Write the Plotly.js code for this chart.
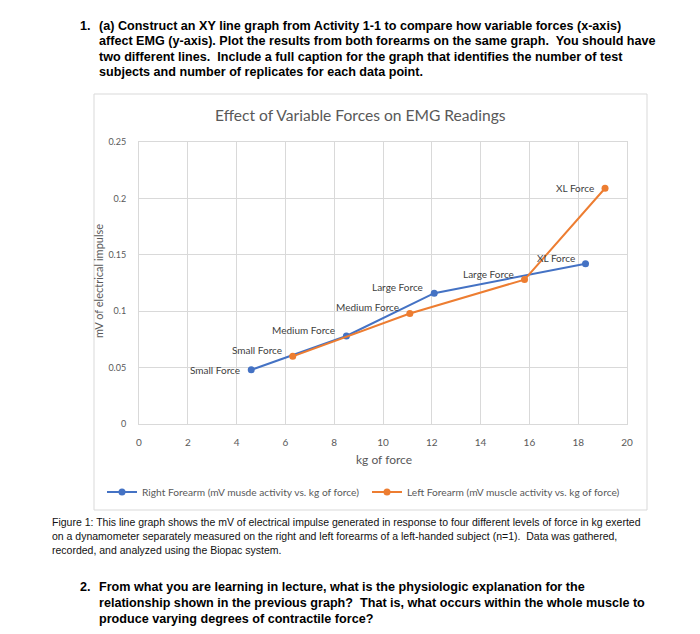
<!DOCTYPE html>
<html>
<head>
<meta charset="utf-8">
<script src="https://cdn.plot.ly/plotly-3.0.1.min.js"></script>
<style>
  body { margin: 0; background: #fff; }
  #chart { width: 700px; height: 634px; }
</style>
</head>
<body>
<div id="chart"></div>
<script>
// force levels (kg) and EMG (mV)
const levels = ["Small Force", "Medium Force", "Large Force", "XL Force"];
const right_kg = [4.6, 8.5, 12.1, 18.3];
const right_mv = [0.048, 0.078, 0.116, 0.142];
const left_kg = [6.3, 11.1, 15.8, 19.1];
const left_mv = [0.060, 0.098, 0.128, 0.209];

const q1_lines = [
  "(a) Construct an XY line graph from Activity 1-1 to compare how variable forces (x-axis)",
  "affect EMG (y-axis). Plot the results from both forearms on the same graph.  You should have",
  "two different lines.  Include a full caption for the graph that identifies the number of test",
  "subjects and number of replicates for each data point."
];
const caption_lines = [
  "Figure 1: This line graph shows the mV of electrical impulse generated in response to four different levels of force in kg exerted",
  "on a dynamometer separately measured on the right and left forearms of a left-handed subject (n=1).  Data was gathered,",
  "recorded, and analyzed using the Biopac system."
];
const q2_lines = [
  "From what you are learning in lecture, what is the physiologic explanation for the",
  "relationship shown in the previous graph?  That is, what occurs within the whole muscle to",
  "produce varying degrees of contractile force?"
];

const BLUE = "#4472C4";
const ORANGE = "#ED7D31";
const GREY = "#595959";
const chartFont = "Lato, 'Open Sans', sans-serif";
const docFont = "'Liberation Sans Narrow', 'Liberation Sans', Arial, sans-serif";

// plot area in page pixels
const plot = { left: 139, right: 627, top: 142, bottom: 424 };
const W = 700, H = 634;
const px = x => (x - plot.left) / (plot.right - plot.left);
const py = y => (plot.bottom - y) / (plot.bottom - plot.top);

let annotations = [];

function textLine(text, x, y, size, bold, color, family) {
  annotations.push({
    text: bold ? "<b>" + text + "</b>" : text,
    xref: "paper", yref: "paper",
    x: px(x), y: py(y),
    xanchor: "left", yanchor: "middle",
    showarrow: false,
    font: { family: family || docFont, size: size, color: color || "#000" }
  });
}

// question 1
textLine("1.", 78, 26, 12.6, true);
q1_lines.forEach((t, i) => textLine(t, 97, 26 + i * 15.3, 12.6, true));

// caption
caption_lines.forEach((t, i) => textLine(t, 50, 522 + i * 14, 10.5, false, "#111"));

// question 2
textLine("2.", 78, 587, 12.6, true);
q2_lines.forEach((t, i) => textLine(t, 97, 587 + i * 16, 12.6, true));

// chart title and axis titles
annotations.push({
  text: "Effect of Variable Forces on EMG Readings",
  xref: "paper", yref: "paper", x: px(360), y: py(115),
  xanchor: "center", yanchor: "middle", showarrow: false,
  font: { family: chartFont, size: 15.6, color: GREY }
});
annotations.push({
  text: "mV of electrical impulse",
  xref: "paper", yref: "paper", x: px(98), y: py(281),
  xanchor: "center", yanchor: "middle", showarrow: false, textangle: -90,
  font: { family: chartFont, size: 11, color: GREY }
});
annotations.push({
  text: "kg of force",
  xref: "paper", yref: "paper", x: px(384), y: py(459),
  xanchor: "center", yanchor: "middle", showarrow: false,
  font: { family: chartFont, size: 12, color: GREY }
});

// data labels
function pointLabels(xs, ys, flat) {
  xs.forEach((x, i) => {
    annotations.push({
      text: levels[i], x: x, y: ys[i], xref: "x", yref: "y",
      xanchor: "right", yanchor: "middle", showarrow: false,
      xshift: -9, yshift: i === flat ? 0 : 6,
      font: { family: chartFont, size: 10, color: "#404040" }
    });
  });
}
pointLabels(right_kg, right_mv, 0);
pointLabels(left_kg, left_mv, 3);

const data = [
  {
    name: "Right Forearm (mV musde activity vs. kg of force)",
    x: right_kg, y: right_mv,
    type: "scatter", mode: "lines+markers",
    line: { color: BLUE, width: 2 },
    marker: { color: BLUE, size: 7 },
    cliponaxis: false,
    legend: "legend"
  },
  {
    name: "Left Forearm (mV muscle activity vs. kg of force)",
    x: left_kg, y: left_mv,
    type: "scatter", mode: "lines+markers",
    line: { color: ORANGE, width: 2 },
    marker: { color: ORANGE, size: 7 },
    cliponaxis: false,
    legend: "legend2"
  }
];

function legendAt(left) {
  return {
    orientation: "h",
    xref: "container", yref: "container",
    x: left / W, xanchor: "left",
    y: 1 - 492 / H, yanchor: "middle",
    font: { family: chartFont, size: 10.2, color: GREY },
    itemwidth: 30,
    bgcolor: "rgba(0,0,0,0)"
  };
}

const layout = {
  width: W, height: H,
  margin: { l: plot.left, r: W - plot.right, t: plot.top, b: H - plot.bottom, pad: 0 },
  paper_bgcolor: "#fff",
  plot_bgcolor: "#fff",
  font: { family: chartFont, color: GREY },
  xaxis: {
    range: [0, 20], dtick: 2, tick0: 0,
    showgrid: true, gridcolor: "#d9d9d9", gridwidth: 1,
    showline: true, linecolor: "#d9d9d9", mirror: true,
    zeroline: false,
    ticks: "outside", ticklen: 9, tickcolor: "rgba(0,0,0,0)",
    tickfont: { family: chartFont, size: 10, color: GREY },
    fixedrange: true
  },
  yaxis: {
    range: [0, 0.25], dtick: 0.05, tick0: 0,
    showgrid: true, gridcolor: "#d9d9d9", gridwidth: 1,
    showline: true, linecolor: "#d9d9d9", mirror: true,
    zeroline: false,
    ticks: "outside", ticklen: 10, tickcolor: "rgba(0,0,0,0)",
    tickfont: { family: chartFont, size: 9, color: GREY },
    fixedrange: true
  },
  showlegend: true,
  legend: legendAt(102),
  legend2: legendAt(367),
  shapes: [
    {
      type: "rect", xref: "paper", yref: "paper", layer: "below",
      x0: px(94), x1: px(647), y0: py(94), y1: py(510),
      line: { color: "#d9d9d9", width: 1 }
    }
  ],
  annotations: annotations
};

Plotly.newPlot("chart", data, layout, { displayModeBar: false, staticPlot: true });
</script>
</body>
</html>
